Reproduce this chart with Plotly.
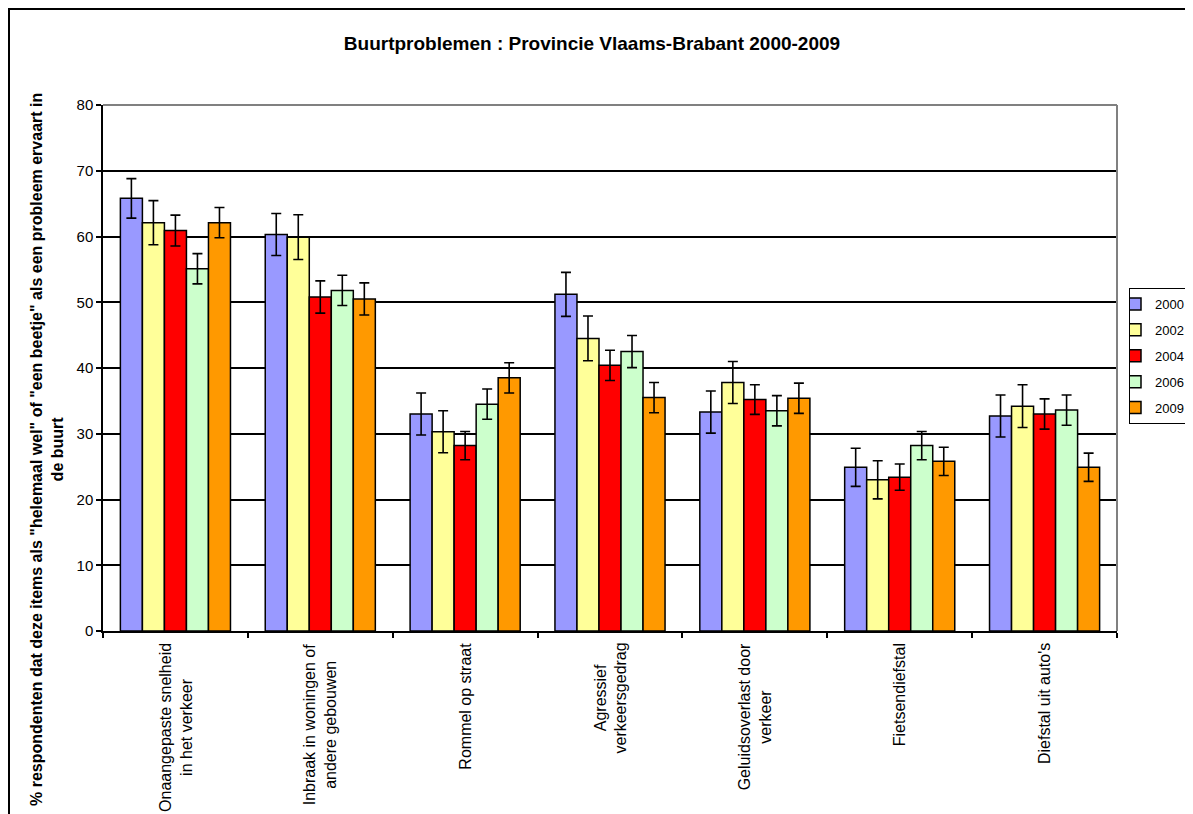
import plotly.graph_objects as go

categories = [
    "Onaangepaste snelheid<br>in het verkeer",
    "Inbraak in woningen of<br>andere gebouwen",
    "Rommel op straat",
    "Agressief<br>verkeersgedrag",
    "Geluidsoverlast door<br>verkeer",
    "Fietsendiefstal",
    "Diefstal uit auto's",
]
years = ["2000", "2002", "2004", "2006", "2009"]

v2000 = [65.8, 60.3, 33.0, 51.2, 33.3, 24.9, 32.7]
v2002 = [62.1, 59.9, 30.3, 44.5, 37.8, 23.0, 34.2]
v2004 = [60.9, 50.8, 28.2, 40.4, 35.2, 23.4, 33.0]
v2006 = [55.1, 51.8, 34.5, 42.5, 33.5, 28.2, 33.6]
v2009 = [62.1, 50.5, 38.5, 35.5, 35.4, 25.8, 24.9]

e2000 = [3.0, 3.2, 3.2, 3.35, 3.2, 2.9, 3.2]
e2002 = [3.35, 3.4, 3.2, 3.4, 3.2, 2.9, 3.25]
e2004 = [2.35, 2.45, 2.15, 2.3, 2.25, 2.0, 2.3]
e2006 = [2.3, 2.3, 2.3, 2.45, 2.3, 2.15, 2.3]
e2009 = [2.3, 2.45, 2.3, 2.3, 2.3, 2.15, 2.15]

values = [v2000, v2002, v2004, v2006, v2009]
errors = [e2000, e2002, e2004, e2006, e2009]
colors = ["#9999FF", "#FFFF99", "#FF0000", "#CCFFCC", "#FF9900"]

FONT = "Liberation Sans, Arial, sans-serif"

fig = go.Figure()
for yr, vals, errs, col in zip(years, values, errors, colors):
    fig.add_trace(go.Bar(
        name=yr, x=categories, y=vals, legendgroup=yr,
        marker=dict(color=col, line=dict(color="black", width=1.5)),
        error_y=dict(type="data", array=errs, visible=True,
                     color="black", thickness=1.6, width=5),
    ))

# page has an 8px body margin: figure coords = page coords - 8
OFF = 8
W, H = 1215, 806
L, T, B = 95, 97, 183
R = W - 1109
pw, ph = W - L - R, H - T - B

def px_x(p):
    return (p - OFF - L) / pw

def px_y(p):
    return (H - B - (p - OFF)) / ph

annotations = []
for c in categories:
    annotations.append(dict(
        x=c, xref="x", y=px_y(641), yref="paper", text=c, showarrow=False,
        textangle=-90, xanchor="center", yanchor="top", align="center",
        font=dict(family=FONT, size=16, color="black"),
    ))
annotations.append(dict(
    x=px_x(47), xref="paper", y=px_y(450), yref="paper",
    text='% respondenten dat deze items als "helemaal wel" of "een beetje" als een probleem ervaart in<br>de buurt',
    showarrow=False, textangle=-90, xanchor="center", yanchor="middle", align="center",
    font=dict(family=FONT, size=16, color="black", weight="bold"),
))

shapes = [
    # outer chart frame
    dict(type="rect", xref="paper", yref="paper",
         x0=px_x(9), x1=px_x(1250), y0=px_y(840), y1=px_y(9),
         line=dict(color="black", width=2), layer="below"),
    # plot-area top and right borders (gray)
    dict(type="line", xref="paper", yref="paper", x0=0, x1=1, y0=1, y1=1,
         line=dict(color="#808080", width=2), layer="above"),
    dict(type="line", xref="paper", yref="paper", x0=1, x1=1, y0=0, y1=1,
         line=dict(color="#808080", width=2), layer="above"),
]

fig.update_layout(
    width=W, height=H,
    margin=dict(l=L, r=R, t=T, b=B, autoexpand=False),
    paper_bgcolor="white", plot_bgcolor="white",
    barmode="group", bargap=0.24, bargroupgap=0,
    font=dict(family=FONT, color="black"),
    title=dict(text="<b>Buurtproblemen : Provincie Vlaams-Brabant 2000-2009</b>",
               x=(592 - OFF) / W, xref="container", xanchor="center",
               y=1 - (43 - OFF) / H, yref="container", yanchor="middle",
               font=dict(family=FONT, size=19, color="black")),
    xaxis=dict(type="category", showticklabels=False, showline=True,
               linecolor="black", linewidth=1.5, ticks="outside",
               tickson="boundaries", ticklen=5, tickcolor="black",
               tickwidth=1.5, showgrid=False, zeroline=False),
    yaxis=dict(range=[0, 80], dtick=10, showline=True, linecolor="black",
               linewidth=1.5, ticks="outside", ticklen=5, tickcolor="black",
               tickwidth=1.5, showgrid=True, gridcolor="black", gridwidth=1.5,
               zeroline=False, tickfont=dict(family=FONT, size=15, color="black")),
    legend=dict(x=px_x(1129), xanchor="left", y=px_y(356), yanchor="middle",
                bordercolor="black", borderwidth=1, bgcolor="white",
                font=dict(family=FONT, size=13, color="black"),
                tracegroupgap=6, indentation=-15, traceorder="grouped"),
    annotations=annotations,
    shapes=shapes,
)

fig.write_html("out.html")
